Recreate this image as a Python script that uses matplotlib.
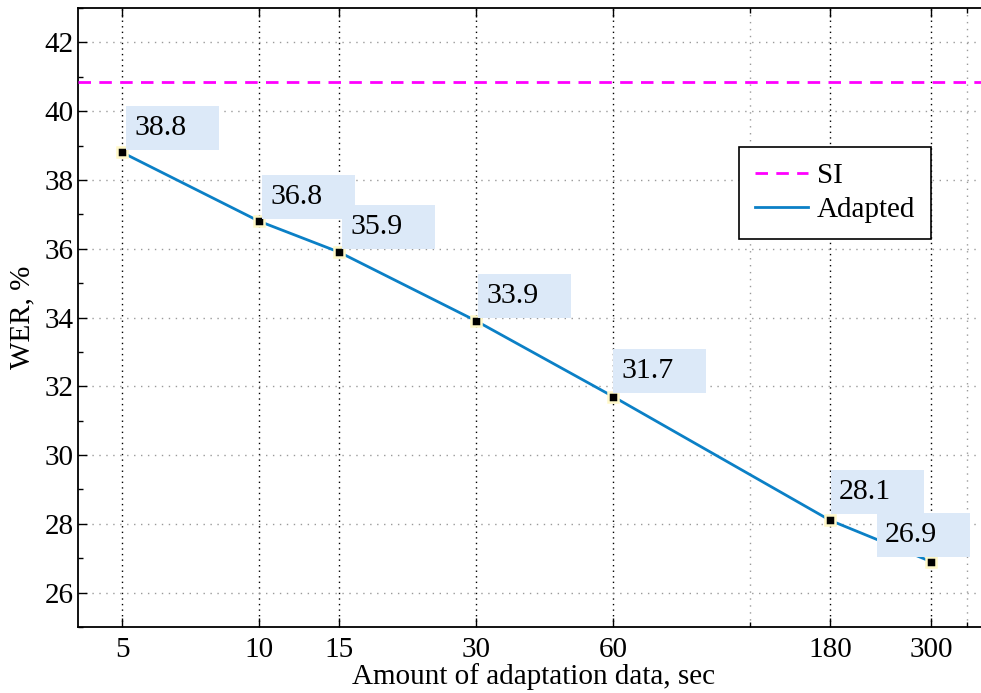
import matplotlib
matplotlib.use("Agg")
import matplotlib.pyplot as plt
from matplotlib.patches import Rectangle
from matplotlib.transforms import ScaledTranslation
from matplotlib.ticker import FixedLocator, NullFormatter

# ---------------------------------------------------------------------------
# data
# ---------------------------------------------------------------------------
amount_sec = [5, 10, 15, 30, 60, 180, 300]
wer_adapted = [38.8, 36.8, 35.9, 33.9, 31.7, 28.1, 26.9]
wer_si = 40.85
x_minor = [120, 360]
label_text = ["38.8", "36.8", "35.9", "33.9", "31.7", "28.1", "26.9"]

# label box offsets (pixels, from the point): left edge, bottom edge
box_dx = [4, 3, 3, 2, 0, 1, -54]
box_dy = [2, 2, 3, 3, 4, 6, 5]
BOX_W, BOX_H = 93, 44

plt.rcParams["font.family"] = ["Liberation Serif", "DejaVu Serif"]
plt.rcParams["font.size"] = 21

fig = plt.figure(figsize=(9.81, 6.93), dpi=100)
# right spine sits just outside the picture, as in the reference
ax = fig.add_axes([78 / 981, 1 - 627 / 693, 912 / 981, 619 / 693])

ax.axhline(wer_si, color="#ff00ff", lw=2, ls=(0, (4.5, 3)), label="SI", zorder=3)
ax.plot(amount_sec, wer_adapted, color="#0b80c6", lw=2, label="Adapted", zorder=3)
ax.plot(amount_sec, wer_adapted, ls="none", marker="s", ms=7, mfc="black",
        mec="#fff8c8", mew=1.8, zorder=4)

ax.set_xscale("log")
ax.set_xlim(4, 404)
ax.set_ylim(25, 43)

ax.xaxis.set_major_locator(FixedLocator(amount_sec))
ax.set_xticklabels([str(v) for v in amount_sec])
ax.xaxis.set_minor_locator(FixedLocator(x_minor))
ax.xaxis.set_minor_formatter(NullFormatter())
ax.set_yticks(range(26, 43, 2))
ax.yaxis.set_minor_locator(FixedLocator(range(25, 44, 2)))

ax.tick_params(which="both", direction="in", top=True, right=True, width=1)
ax.tick_params(which="major", length=6.5)
ax.tick_params(which="minor", length=3.5)
ax.tick_params(axis="x", which="major", pad=7)
ax.tick_params(axis="y", which="major", pad=3)

ax.grid(axis="x", which="major", color="black", ls=(0, (1, 3)), lw=1)
ax.grid(axis="x", which="minor", color="#9a9a9a", ls=(0, (1, 4)), lw=1)
ax.grid(axis="y", which="major", color="#9a9a9a", ls=(0, (1, 4)), lw=1)
for s in ax.spines.values():
    s.set_linewidth(1.3)

ax.set_xlabel("Amount of adaptation data, sec", labelpad=0)
ax.set_ylabel("WER, %", labelpad=7)

# value labels: light blue boxes anchored at each point
px = 1 / fig.dpi
for x, y, t, dx, dy in zip(amount_sec, wer_adapted, label_text, box_dx, box_dy):
    tr = fig.dpi_scale_trans + ScaledTranslation(x, y, ax.transData)
    ax.add_patch(Rectangle((dx * px, dy * px), BOX_W * px, BOX_H * px,
                           transform=tr, facecolor="#dce9f8", edgecolor="none",
                           zorder=5, clip_on=False))
    ax.text((dx + 8) * px, (dy + 15) * px, t, transform=tr, fontsize=21.5,
            ha="left", va="baseline", zorder=6)

leg = ax.legend(loc="upper right", bbox_to_anchor=(853 / 912, 0.7754), borderaxespad=0,
                fancybox=False, framealpha=1, edgecolor="black", handlelength=1.8,
                handletextpad=0.3, borderpad=0.55, labelspacing=0.25)
leg.get_frame().set_linewidth(1.2)
leg.set_zorder(7)

fig.savefig("out.png", dpi=100)
